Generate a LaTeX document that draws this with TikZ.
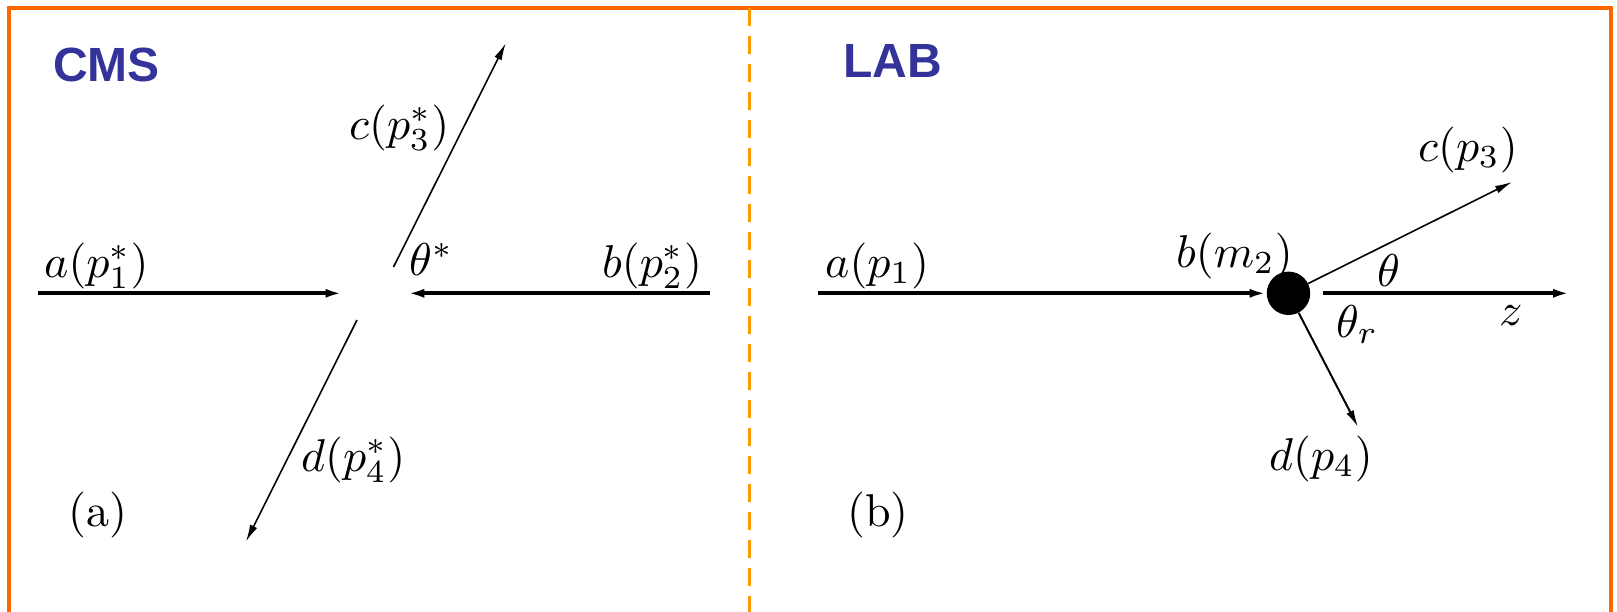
\RequirePackage{fix-cm}
\documentclass[tikz,border=0pt]{standalone}
\usepackage{fontspec}
\usetikzlibrary{arrows.meta}
\newfontfamily\headfont{Liberation Sans}
\definecolor{frameorange}{RGB}{255,102,0}
\definecolor{dashorange}{RGB}{255,153,0}
\definecolor{headblue}{RGB}{51,51,153}
\newcommand{\biglbl}[1]{\scalebox{4.6}{#1}}
\begin{document}
\begin{tikzpicture}[x=1pt,y=-1pt,
  lbl/.style={anchor=base west, inner sep=0pt, font=\fontsize{10}{12}\selectfont},
  head/.style={anchor=base west, inner sep=0pt, text=headblue, font=\headfont\bfseries\fontsize{48}{58}\selectfont},
  beam/.style={line width=4pt, -{Latex[length=17pt,width=9pt]}},
  prod/.style={line width=1.6pt, -{Latex[length=17pt,width=8pt]}},
  ball/.style={circle, fill=black, minimum size=43.4pt, inner sep=0pt}
]
\clip (0,0) rectangle (1617,611);
\fill[white] (0,0) rectangle (1617,611);
% frame
\draw[frameorange, line width=4.5pt] (9,620) -- (9,8) -- (1611,8) -- (1611,620);
\draw[dashorange, line width=3pt, dash pattern=on 18pt off 10pt] (749,8) -- (749,615);

% headings
\node[head] (cms) at (53,81) {CMS};
\node[head] (lab) at (843,77) {LAB};

% ---- CMS panel ----
\coordinate (a1s) at (38,293.3);
\coordinate (a1e) at (342.5,293.3);
\coordinate (b1s) at (710,293.3);
\coordinate (b1e) at (407.3,293.3);
\coordinate (c1s) at (393.5,267);
\coordinate (c1e) at (505.7,43.3);
\coordinate (d1s) at (357,320);
\coordinate (d1e) at (246,541.5);
\draw[beam] (a1s) -- (a1e);
\draw[beam] (b1s) -- (b1e);
\draw[prod] (c1s) -- (c1e);
\draw[prod] (d1s) -- (d1e);

\node[lbl] (la1) at (44,277) {\biglbl{$a(p_1^*)$}};
\node[lbl] (lc1) at (349,139) {\biglbl{$c(p_3^*)$}};
\node[lbl] (lth1) at (409,275) {\biglbl{$\theta^*$}};
\node[lbl] (lb1) at (602,277) {\biglbl{$b(p_2^*)$}};
\node[lbl] (ld1) at (301,471) {\biglbl{$d(p_4^*)$}};
\node[lbl] (pa) at (68,526) {\biglbl{(a)}};

% ---- LAB panel ----
\node[ball] (tgt) at (1288.5,293.3) {};
\coordinate (a2s) at (818,293.3);
\coordinate (c2e) at (1512,182);
\coordinate (d2e) at (1358,427);
\coordinate (zs) at (1323,293.3);
\coordinate (ze) at (1570,293.3);
\draw[beam] (a2s) -- (tgt);
\draw[prod] (tgt) -- (c2e);
\draw[prod, line width=2pt] (tgt) -- (d2e);
\draw[beam] (zs) -- (ze);

\node[lbl] (la2) at (825,277) {\biglbl{$a(p_1)$}};
\node[lbl] (lb2) at (1176,267) {\biglbl{$b(m_2)$}};
\node[lbl] (lc2) at (1418,161) {\biglbl{$c(p_3)$}};
\node[lbl] (lth2) at (1377,286) {\biglbl{$\theta$}};
\node[lbl] (lz) at (1499,325) {\biglbl{$z$}};
\node[lbl] (lthr) at (1336,337) {\biglbl{$\theta_r$}};
\node[lbl] (ld2) at (1269,470) {\biglbl{$d(p_4)$}};
\node[lbl] (pb) at (847,526) {\biglbl{(b)}};
\end{tikzpicture}
\end{document}
